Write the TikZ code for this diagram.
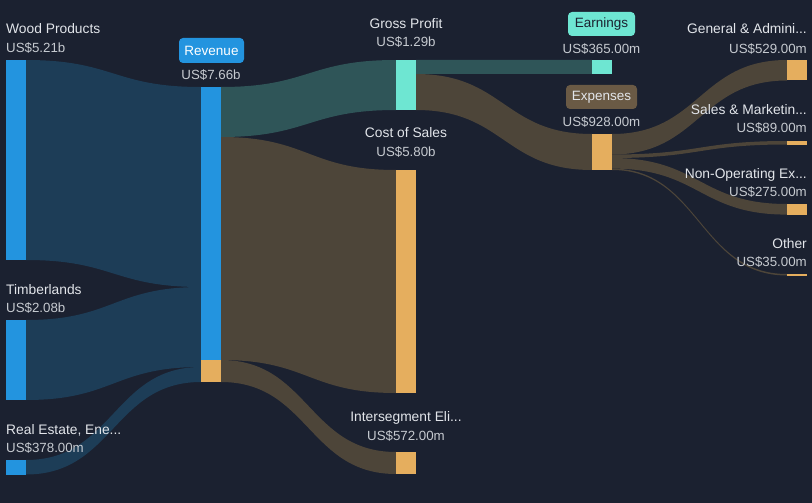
\documentclass[tikz,border=0pt]{standalone}
\usepackage{fontspec}
\setmainfont{Liberation Sans}
\usetikzlibrary{calc}
\definecolor{bgc}{HTML}{1B2130}
\definecolor{barblue}{HTML}{2394DF}
\definecolor{flowblue}{HTML}{1D3D57}
\definecolor{barteal}{HTML}{6EE6D2}
\definecolor{flowteal}{HTML}{2F5558}
\definecolor{barorange}{HTML}{E5AE5E}
\definecolor{flowbrown}{HTML}{4D4539}
\definecolor{expbox}{HTML}{6A5A45}
\definecolor{nametext}{HTML}{E2E5EA}
\definecolor{valtext}{HTML}{C6CAD0}
\pgfdeclarelayer{back}
\pgfsetlayers{back,main}
\newcommand\flowband[5]{\fill[#1] let \p1=#2, \p2=#3, \p3=#4, \p4=#5, \p5=($#2!0.5!#3$) in (\p1) .. controls (\x5,\y1) and (\x5,\y2) .. (\p2) -- (\p3) .. controls (\x5,\y3) and (\x5,\y4) .. (\p4) -- cycle;}
\begin{document}
\begin{tikzpicture}[x=1pt,y=-1pt,
  bar/.style={rectangle, inner sep=0pt, outer sep=0pt, minimum width=20pt, anchor=north west},
  lbl/.style={font=\fontsize{13.8}{16}\selectfont, text=nametext, inner sep=0pt},
  val/.style={font=\fontsize{13.3}{15}\selectfont, text=valtext, inner sep=0pt},
  tagbox/.style={rectangle, rounded corners=4pt, inner sep=0pt, minimum height=24pt, font=\fontsize{13.5}{16}\selectfont}]
\useasboundingbox (0,0) rectangle (812,503);
% bars
\node[bar, fill=barblue, minimum height=200pt] (wood) at (6,60) {};
\node[bar, fill=barblue, minimum height=80pt] (timber) at (6,320) {};
\node[bar, fill=barblue, minimum height=14.5pt] (realest) at (6,460) {};
\node[bar, fill=barblue, minimum height=295pt] (revenue) at (201,87) {};
\node[bar, fill=barorange, minimum height=22pt] (revint) at (201,360) {};
\node[bar, fill=barteal, minimum height=50pt] (gp) at (396,60) {};
\node[bar, fill=barorange, minimum height=223pt] (cos) at (396,170) {};
\node[bar, fill=barorange, minimum height=22pt] (inter) at (396,452) {};
\node[bar, fill=barteal, minimum height=14pt] (earn) at (592,60) {};
\node[bar, fill=barorange, minimum height=36pt] (exp) at (592,134) {};
\node[bar, fill=barorange, minimum height=20.5pt] (ga) at (787,60) {};
\node[bar, fill=barorange, minimum height=3.5pt] (sm) at (787,141) {};
\node[bar, fill=barorange, minimum height=10.6pt] (nonop) at (787,204) {};
\node[bar, fill=barorange, minimum height=1.5pt] (other) at (787,274) {};
% flows
\begin{pgfonlayer}{back}
\fill[bgc] (0,0) rectangle (812,503);
\flowband{flowblue}{(wood.north east)}{(revenue.north west)}{([yshift=-200pt]revenue.north west)}{(wood.south east)}
\flowband{flowblue}{(timber.north east)}{([yshift=-200pt]revenue.north west)}{([yshift=-280pt]revenue.north west)}{(timber.south east)}
\flowband{flowblue}{(realest.north east)}{([yshift=-280pt]revenue.north west)}{(revenue.south west)}{(realest.south east)}
\flowband{flowteal}{(revenue.north east)}{(gp.north west)}{(gp.south west)}{([yshift=-50pt]revenue.north east)}
\flowband{flowbrown}{([yshift=-50pt]revenue.north east)}{(cos.north west)}{(cos.south west)}{(revint.north east)}
\flowband{flowbrown}{(revint.north east)}{(inter.north west)}{(inter.south west)}{(revint.south east)}
\flowband{flowteal}{(gp.north east)}{(earn.north west)}{(earn.south west)}{([yshift=-14pt]gp.north east)}
\flowband{flowbrown}{([yshift=-14pt]gp.north east)}{(exp.north west)}{(exp.south west)}{(gp.south east)}
\flowband{flowbrown}{(exp.north east)}{(ga.north west)}{(ga.south west)}{([yshift=-20.5pt]exp.north east)}
\flowband{flowbrown}{([yshift=-20.5pt]exp.north east)}{(sm.north west)}{(sm.south west)}{([yshift=-24pt]exp.north east)}
\flowband{flowbrown}{([yshift=-24pt]exp.north east)}{(nonop.north west)}{(nonop.south west)}{([yshift=-34.6pt]exp.north east)}
\flowband{flowbrown}{([yshift=-34.6pt]exp.north east)}{(other.north west)}{(other.south west)}{(exp.south east)}
\end{pgfonlayer}
% left labels
\node[lbl, anchor=base west] (woodname) at (6,34) {Wood Products};
\node[val, anchor=base west] (woodval) at (6,52.5) {US\$5.21b};
\node[lbl, anchor=base west] (timbername) at (6,294.3) {Timberlands};
\node[val, anchor=base west] (timberval) at (6,312.7) {US\$2.08b};
\node[lbl, anchor=base west] (rename) at (6,434.3) {Real Estate, Ene...};
\node[val, anchor=base west] (reval) at (6,452.7) {US\$378.00m};
% revenue
\node[tagbox, fill=barblue, text=white, minimum width=65pt, minimum height=25pt] (revtag) at (211.5,50.5) {Revenue};
\node[val, anchor=base] (revval) at (211,80) {US\$7.66b};
% middle labels
\node[lbl, anchor=base] (gpname) at (406,28.3) {Gross Profit};
\node[val, anchor=base] (gpval) at (406,46.7) {US\$1.29b};
\node[lbl, anchor=base] (cosname) at (406,137.7) {Cost of Sales};
\node[val, anchor=base] (cosval) at (406,156.7) {US\$5.80b};
\node[lbl, anchor=base] (intername) at (406,421) {Intersegment Eli...};
\node[val, anchor=base] (interval) at (406,440) {US\$572.00m};
% earnings / expenses
\node[tagbox, fill=barteal, text=bgc, minimum width=67pt] (earntag) at (601.5,24) {Earnings};
\node[val, anchor=base] (earnval) at (601.5,53.3) {US\$365.00m};
\node[tagbox, fill=expbox, text=nametext, minimum width=71pt] (exptag) at (601.5,97) {Expenses};
\node[val, anchor=base] (expval) at (601.5,126.7) {US\$928.00m};
% right labels
\node[lbl, anchor=base east] (ganame) at (807,33.7) {General \& Admini...};
\node[val, anchor=base east] (gaval) at (807,53.3) {US\$529.00m};
\node[lbl, anchor=base east] (smname) at (807,114) {Sales \& Marketin...};
\node[val, anchor=base east] (smval) at (807,132) {US\$89.00m};
\node[lbl, anchor=base east] (nonopname) at (807,178.3) {Non-Operating Ex...};
\node[val, anchor=base east] (nonopval) at (807,196.7) {US\$275.00m};
\node[lbl, anchor=base east] (othername) at (807,248.3) {Other};
\node[val, anchor=base east] (otherval) at (807,266.7) {US\$35.00m};
\end{tikzpicture}
\end{document}
